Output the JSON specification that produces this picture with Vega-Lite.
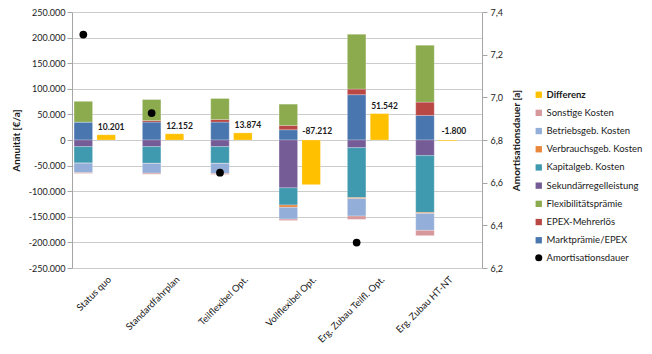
{
  "$schema": "https://vega.github.io/schema/vega-lite/v6.json",
  "width": 410,
  "height": 256,
  "autosize": {"type": "none"},
  "padding": {"left": 72, "top": 12, "right": 170, "bottom": 86},
  "background": "#ffffff",
  "datasets": {
    "stack": [
      {"category": "Status quo", "series": "Marktprämie/EPEX", "value": 35000},
      {"category": "Status quo", "series": "EPEX-Mehrerlös", "value": 0},
      {"category": "Status quo", "series": "Flexibilitätsprämie", "value": 40500},
      {"category": "Status quo", "series": "Sekundärregelleistung", "value": -13000},
      {"category": "Status quo", "series": "Kapitalgeb. Kosten", "value": -32000},
      {"category": "Status quo", "series": "Verbrauchsgeb. Kosten", "value": -300},
      {"category": "Status quo", "series": "Betriebsgeb. Kosten", "value": -18500},
      {"category": "Status quo", "series": "Sonstige Kosten", "value": -1499},
      {"category": "Standardfahrplan", "series": "Marktprämie/EPEX", "value": 35000},
      {"category": "Standardfahrplan", "series": "EPEX-Mehrerlös", "value": 3000},
      {"category": "Standardfahrplan", "series": "Flexibilitätsprämie", "value": 41000},
      {"category": "Standardfahrplan", "series": "Sekundärregelleistung", "value": -13000},
      {"category": "Standardfahrplan", "series": "Kapitalgeb. Kosten", "value": -32500},
      {"category": "Standardfahrplan", "series": "Verbrauchsgeb. Kosten", "value": -300},
      {"category": "Standardfahrplan", "series": "Betriebsgeb. Kosten", "value": -19000},
      {"category": "Standardfahrplan", "series": "Sonstige Kosten", "value": -2048},
      {"category": "Teilflexibel Opt.", "series": "Marktprämie/EPEX", "value": 35000},
      {"category": "Teilflexibel Opt.", "series": "EPEX-Mehrerlös", "value": 5000},
      {"category": "Teilflexibel Opt.", "series": "Flexibilitätsprämie", "value": 41000},
      {"category": "Teilflexibel Opt.", "series": "Sekundärregelleistung", "value": -13000},
      {"category": "Teilflexibel Opt.", "series": "Kapitalgeb. Kosten", "value": -32500},
      {"category": "Teilflexibel Opt.", "series": "Verbrauchsgeb. Kosten", "value": -300},
      {"category": "Teilflexibel Opt.", "series": "Betriebsgeb. Kosten", "value": -19500},
      {"category": "Teilflexibel Opt.", "series": "Sonstige Kosten", "value": -1826},
      {"category": "Vollflexibel Opt.", "series": "Marktprämie/EPEX", "value": 20000},
      {"category": "Vollflexibel Opt.", "series": "EPEX-Mehrerlös", "value": 8500},
      {"category": "Vollflexibel Opt.", "series": "Flexibilitätsprämie", "value": 41500},
      {"category": "Vollflexibel Opt.", "series": "Sekundärregelleistung", "value": -93500},
      {"category": "Vollflexibel Opt.", "series": "Kapitalgeb. Kosten", "value": -33500},
      {"category": "Vollflexibel Opt.", "series": "Verbrauchsgeb. Kosten", "value": -4500},
      {"category": "Vollflexibel Opt.", "series": "Betriebsgeb. Kosten", "value": -23000},
      {"category": "Vollflexibel Opt.", "series": "Sonstige Kosten", "value": -2712},
      {"category": "Erg. Zubau Teilfl. Opt.", "series": "Marktprämie/EPEX", "value": 88500},
      {"category": "Erg. Zubau Teilfl. Opt.", "series": "EPEX-Mehrerlös", "value": 11000},
      {"category": "Erg. Zubau Teilfl. Opt.", "series": "Flexibilitätsprämie", "value": 107000},
      {"category": "Erg. Zubau Teilfl. Opt.", "series": "Sekundärregelleistung", "value": -15000},
      {"category": "Erg. Zubau Teilfl. Opt.", "series": "Kapitalgeb. Kosten", "value": -97500},
      {"category": "Erg. Zubau Teilfl. Opt.", "series": "Verbrauchsgeb. Kosten", "value": -2000},
      {"category": "Erg. Zubau Teilfl. Opt.", "series": "Betriebsgeb. Kosten", "value": -34000},
      {"category": "Erg. Zubau Teilfl. Opt.", "series": "Sonstige Kosten", "value": -6458},
      {"category": "Erg. Zubau HT-NT", "series": "Marktprämie/EPEX", "value": 48000},
      {"category": "Erg. Zubau HT-NT", "series": "EPEX-Mehrerlös", "value": 26000},
      {"category": "Erg. Zubau HT-NT", "series": "Flexibilitätsprämie", "value": 111000},
      {"category": "Erg. Zubau HT-NT", "series": "Sekundärregelleistung", "value": -30500},
      {"category": "Erg. Zubau HT-NT", "series": "Kapitalgeb. Kosten", "value": -111000},
      {"category": "Erg. Zubau HT-NT", "series": "Verbrauchsgeb. Kosten", "value": -2000},
      {"category": "Erg. Zubau HT-NT", "series": "Betriebsgeb. Kosten", "value": -33000},
      {"category": "Erg. Zubau HT-NT", "series": "Sonstige Kosten", "value": -10300}
    ],
    "diff": [
      {"category": "Status quo", "series": "Differenz", "value": 10201},
      {"category": "Standardfahrplan", "series": "Differenz", "value": 12152},
      {"category": "Teilflexibel Opt.", "series": "Differenz", "value": 13874},
      {"category": "Vollflexibel Opt.", "series": "Differenz", "value": -87212},
      {"category": "Erg. Zubau Teilfl. Opt.", "series": "Differenz", "value": 51542},
      {"category": "Erg. Zubau HT-NT", "series": "Differenz", "value": -1800}
    ],
    "amort": [
      {"category": "Status quo", "series": "Amortisationsdauer", "value": 7.294},
      {"category": "Standardfahrplan", "series": "Amortisationsdauer", "value": 6.926},
      {"category": "Teilflexibel Opt.", "series": "Amortisationsdauer", "value": 6.647},
      {"category": "Erg. Zubau Teilfl. Opt.", "series": "Amortisationsdauer", "value": 6.319}
    ]
  },
  "config": {
    "locale": {"number": {"decimal": ",", "thousands": ".", "grouping": [3], "currency": ["", " €"], "minus": "-"}},
    "font": "Lato",
    "view": {"stroke": null},
    "axis": {
      "labelFont": "Lato", "labelFontSize": 9, "labelColor": "#1a1a1a",
      "titleFont": "Lato", "titleFontSize": 10, "titleFontWeight": "bold", "titleColor": "#1a1a1a",
      "domainColor": "#a6a6a6", "tickColor": "#a6a6a6", "gridColor": "#cccccc"
    },
    "axisLeft": {"tickCount": 10},
    "legend": {
      "title": null, "orient": "none", "symbolSize": 40, "symbolStrokeWidth": 0, "symbolOpacity": 1,
      "labelFont": "Lato", "labelFontSize": 9.5, "labelColor": "#1a1a1a", "labelOffset": 3,
      "rowPadding": 7.2, "padding": 0
    }
  },
  "layer": [
    {
      "layer": [
        {
          "mark": {"type": "rule", "color": "#a6a6a6", "strokeWidth": 1},
          "encoding": {
            "y": {"datum": 0, "type": "quantitative", "scale": {"domain": [-250000, 250000], "nice": false, "zero": false},
              "axis": {"title": "Annuität [€/a]", "tickCount": 10, "format": ",.0f", "grid": true, "tickSize": 5, "labelPadding": 2, "labelOverlap": false, "titleAngle": 270, "titleBaseline": "bottom", "titleAlign": "center", "titleX": -51, "titleY": 128}}
          }
        },
        {
          "data": {"name": "stack"},
          "transform": [{"window": [{"op": "row_number", "as": "stackrank"}], "groupby": ["category"]}],
          "mark": {"type": "bar", "stroke": "#ffffff", "strokeWidth": 0.4, "strokeOpacity": 0.6},
          "encoding": {
            "x": {"field": "category", "type": "nominal",
              "scale": {"domain": ["Status quo", "Standardfahrplan", "Teilflexibel Opt.", "Vollflexibel Opt.", "Erg. Zubau Teilfl. Opt.", "Erg. Zubau HT-NT"], "paddingInner": 0, "paddingOuter": 0},
              "axis": {"title": null, "labelAngle": -45, "ticks": false, "domain": false, "labelPadding": 6, "labelFontSize": 9.5}},
            "xOffset": {"datum": "Kosten", "scale": {"domain": ["Kosten", "Differenz", "Leer"], "paddingInner": 0.19, "paddingOuter": 0.09}},
            "y": {"field": "value", "type": "quantitative", "stack": "zero",
              "scale": {"domain": [-250000, 250000], "nice": false, "zero": false},
              "axis": {"title": "Annuität [€/a]", "tickCount": 10, "format": ",.0f", "grid": true, "tickSize": 5, "labelPadding": 2, "labelOverlap": false, "titleAngle": 270, "titleBaseline": "bottom", "titleAlign": "center", "titleX": -51, "titleY": 128}},
            "color": {"field": "series", "type": "nominal",
              "scale": {
                "domain": ["Sonstige Kosten", "Betriebsgeb. Kosten", "Verbrauchsgeb. Kosten", "Kapitalgeb. Kosten", "Sekundärregelleistung", "Flexibilitätsprämie", "EPEX-Mehrerlös", "Marktprämie/EPEX"],
                "range": ["#d6989a", "#93aed8", "#e9873d", "#3f9ab0", "#765c96", "#8cab4f", "#b94845", "#4a76b0"]
              },
              "legend": {"orient": "none", "legendX": 462, "legendY": 96.1, "symbolType": "square"}
            },
            "order": {"field": "stackrank", "type": "quantitative"}
          }
        },
        {
          "data": {"name": "diff"},
          "mark": {"type": "bar", "stroke": "#ffffff", "strokeWidth": 0.4, "strokeOpacity": 0.6},
          "encoding": {
            "x": {"field": "category", "type": "nominal",
              "scale": {"domain": ["Status quo", "Standardfahrplan", "Teilflexibel Opt.", "Vollflexibel Opt.", "Erg. Zubau Teilfl. Opt.", "Erg. Zubau HT-NT"], "paddingInner": 0, "paddingOuter": 0},
              "axis": {"title": null, "labelAngle": -45, "ticks": false, "domain": false, "labelPadding": 6, "labelFontSize": 9.5}},
            "xOffset": {"datum": "Differenz"},
            "y": {"field": "value", "type": "quantitative", "stack": null,
              "axis": {"title": "Annuität [€/a]", "tickCount": 10, "format": ",.0f", "grid": true, "tickSize": 5, "labelPadding": 2, "labelOverlap": false, "titleAngle": 270, "titleBaseline": "bottom", "titleAlign": "center", "titleX": -51, "titleY": 128}},
            "fill": {"field": "series", "type": "nominal",
              "scale": {"domain": ["Differenz"], "range": ["#ffc000"]},
              "legend": {"orient": "none", "legendX": 462, "legendY": 78, "symbolType": "square", "labelFontWeight": "bold"}}
          }
        },
        {
          "data": {"name": "diff"},
          "transform": [{"filter": "datum.value >= 0"}],
          "mark": {"type": "text", "baseline": "alphabetic", "align": "center", "dx": 5, "dy": -5, "fontWeight": "bold", "fontSize": 8.5, "font": "Lato", "color": "#1a1a1a"},
          "encoding": {
            "x": {"field": "category", "type": "nominal"},
            "xOffset": {"datum": "Differenz"},
            "y": {"field": "value", "type": "quantitative",
              "axis": {"title": "Annuität [€/a]", "tickCount": 10, "format": ",.0f", "grid": true, "tickSize": 5, "labelPadding": 2, "labelOverlap": false, "titleAngle": 270, "titleBaseline": "bottom", "titleAlign": "center", "titleX": -51, "titleY": 128}},
            "text": {"field": "value", "type": "quantitative", "format": ","}
          }
        },
        {
          "data": {"name": "diff"},
          "transform": [{"filter": "datum.value < 0"}],
          "mark": {"type": "text", "baseline": "alphabetic", "align": "center", "dx": 6, "dy": -6, "fontWeight": "bold", "fontSize": 8.5, "font": "Lato", "color": "#1a1a1a"},
          "encoding": {
            "x": {"field": "category", "type": "nominal"},
            "xOffset": {"datum": "Differenz"},
            "y": {"datum": 0, "type": "quantitative",
              "axis": {"title": "Annuität [€/a]", "tickCount": 10, "format": ",.0f", "grid": true, "tickSize": 5, "labelPadding": 2, "labelOverlap": false, "titleAngle": 270, "titleBaseline": "bottom", "titleAlign": "center", "titleX": -51, "titleY": 128}},
            "text": {"field": "value", "type": "quantitative", "format": ","}
          }
        }
      ]
    },
    {
      "data": {"name": "amort"},
      "mark": {"type": "point", "filled": true, "size": 60, "opacity": 1, "color": "#000000"},
      "encoding": {
        "x": {"field": "category", "type": "nominal"},
        "xOffset": {"datum": "Kosten"},
        "y": {"field": "value", "type": "quantitative",
          "scale": {"domain": [6.2, 7.4], "nice": false, "zero": false},
          "axis": {"orient": "right", "title": "Amortisationsdauer [a]", "values": [6.2, 6.4, 6.6, 6.8, 7.0, 7.2, 7.4], "format": ".1f", "grid": false, "tickSize": 5, "labelPadding": 3, "labelOverlap": false, "titleAngle": 270, "titleBaseline": "bottom", "titleAlign": "center", "titleX": 39, "titleY": 128}},
        "shape": {"field": "series", "type": "nominal",
          "scale": {"domain": ["Amortisationsdauer"], "range": ["circle"]},
          "legend": {"orient": "none", "legendX": 462, "legendY": 241, "symbolSize": 50, "symbolFillColor": "#000000"}}
      }
    }
  ],
  "resolve": {"scale": {"y": "independent"}}
}
